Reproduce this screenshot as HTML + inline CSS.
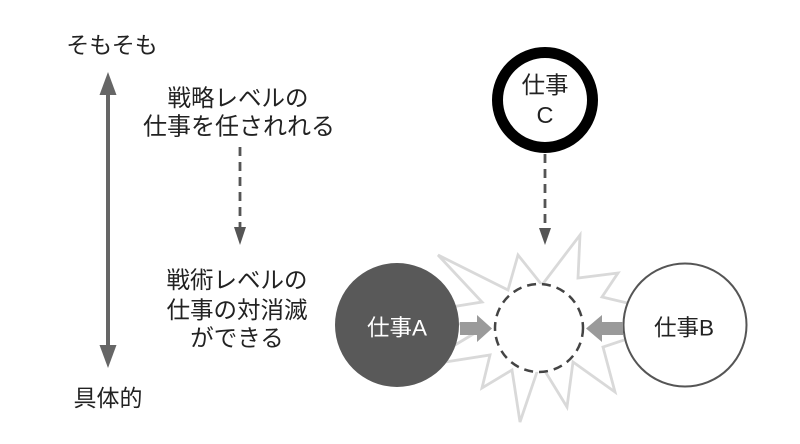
<!DOCTYPE html>
<html><head><meta charset="utf-8"><style>
html,body{margin:0;padding:0;background:#fff;}
svg{display:block;}
text{font-family:"Liberation Sans","Noto Sans CJK JP",sans-serif;}
</style></head><body>
<svg width="800" height="444" viewBox="0 0 800 444" xmlns="http://www.w3.org/2000/svg">
<rect width="800" height="444" fill="#fff"/>
<!-- left vertical double arrow -->
<line x1="108" y1="92" x2="108" y2="348" stroke="#666" stroke-width="4"/>
<polygon points="108,72 99.5,95 116.5,95" fill="#666"/>
<polygon points="108,368 99.5,345 116.5,345" fill="#666"/>
<g fill="#222" font-size="23" text-anchor="middle" dominant-baseline="central">
<text x="112" y="45">そもそも</text>
<text x="108" y="398">具体的</text>
</g>
<g fill="#222" font-size="23.5" text-anchor="middle" dominant-baseline="central">
<text x="238" y="98">戦略レベルの</text>
<text x="239" y="127" font-size="24">仕事を任されれる</text>
<text x="237" y="280">戦術レベルの</text>
<text x="237" y="310">仕事の対消滅</text>
<text x="237" y="338">ができる</text>
</g>
<!-- dashed arrow left -->
<line x1="240" y1="147" x2="240" y2="228" stroke="#555" stroke-width="2.8" stroke-dasharray="9,6"/>
<polygon points="240,245 234,227 246,227" fill="#555"/>
<!-- starburst -->
<polygon points="438,255 508,290 518,255 542,285 580,235 578,278 618,273 602,297 690,318 603,347 615,392 573,362 567,407 540,363 520,422 512,370 482,388 490,355 420,366 480,330 420,312 482,302" fill="#fff" stroke="#d9d9d9" stroke-width="2.8" stroke-linejoin="miter"/>
<!-- dashed circle -->
<circle cx="539" cy="328" r="44" fill="#fff" stroke="#444" stroke-width="2.5" stroke-dasharray="9,6"/>
<!-- circle A -->
<circle cx="397" cy="325" r="62" fill="#595959"/>
<text x="397" y="328" fill="#fff" font-size="22.5" text-anchor="middle" dominant-baseline="central">仕事A</text>
<!-- circle B -->
<circle cx="685" cy="325" r="61.5" fill="#fff" stroke="#555" stroke-width="2"/>
<text x="684" y="328" fill="#222" font-size="22.5" text-anchor="middle" dominant-baseline="central">仕事B</text>
<!-- block arrows -->
<rect x="460" y="322" width="18" height="13" fill="#9a9a9a"/>
<polygon points="477,315 492,328.5 477,342" fill="#9a9a9a"/>
<rect x="601" y="322" width="22" height="13" fill="#9a9a9a"/>
<polygon points="602,315 586,328.5 602,342" fill="#9a9a9a"/>
<!-- circle C -->
<circle cx="545" cy="100" r="47.5" fill="#fff" stroke="#000" stroke-width="11"/>
<text x="545" y="85" fill="#222" font-size="23.5" text-anchor="middle" dominant-baseline="central">仕事</text>
<text x="545" y="115" fill="#222" font-size="23.5" text-anchor="middle" dominant-baseline="central">C</text>
<line x1="545" y1="154" x2="545" y2="229" stroke="#555" stroke-width="2.8" stroke-dasharray="9,6"/>
<polygon points="545,245 539,228 551,228" fill="#555"/>
</svg>
</body></html>
